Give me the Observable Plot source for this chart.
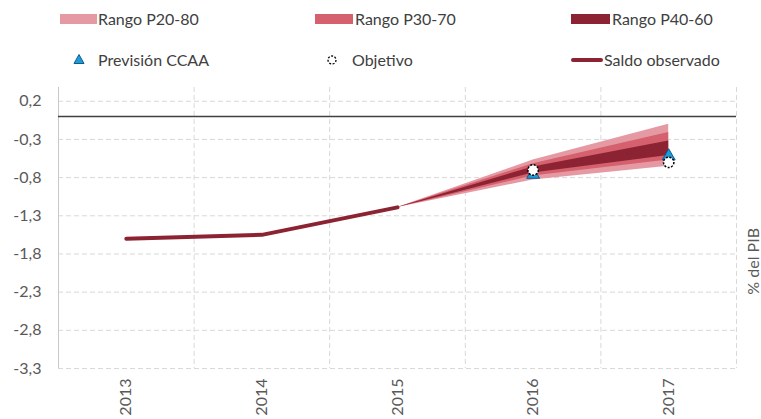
<!DOCTYPE html>
<html>
<head>
<meta charset="utf-8">
<script src="https://cdn.jsdelivr.net/npm/d3@7"></script>
<script src="https://cdn.jsdelivr.net/npm/@observablehq/plot@0.6"></script>
<style>
  html, body { margin: 0; padding: 0; background: #fff; }
  #wrap { position: relative; width: 761px; height: 419px; font-family: Lato, "Open Sans", sans-serif; color: #404040; }
  .leg { position: absolute; font-size: 16px; line-height: 20px; white-space: nowrap; }
  .sw { position: absolute; height: 10px; }
  #chart { position: absolute; left: 0; top: 0; }
</style>
</head>
<body>
<div id="wrap">
  <div id="chart"></div>
</div>
<script>
// ---- data ----
const years = [2013, 2014, 2015, 2016, 2017];
const obsYears = [2013, 2014, 2015];
const saldoObservado = [-1.6, -1.55, -1.19];
const fanYears = [2015, 2016, 2017];
const p20 = [-1.19, -0.83, -0.65];
const p80 = [-1.19, -0.57, -0.10];
const p30 = [-1.19, -0.78, -0.57];
const p70 = [-1.19, -0.62, -0.21];
const p40 = [-1.19, -0.74, -0.51];
const p60 = [-1.19, -0.66, -0.32];
const targetYears = [2016, 2017];
const previsionCCAA = [-0.76, -0.52];
const objetivo = [-0.7, -0.6];
const yTicks = [0.2, -0.3, -0.8, -1.3, -1.8, -2.3, -2.8, -3.3];
const legendLabels = ["Rango P20-80", "Rango P30-70", "Rango P40-60", "Previsión CCAA", "Objetivo", "Saldo observado"];
const colors = { p2080: "#E59AA3", p3070: "#D6616E", p4060: "#8C2333", line: "#8C2333", tri: "#1F9BD7" };

// ---- tables ----
const obs = obsYears.map((y, i) => ({ year: y, v: saldoObservado[i] }));
const fan = fanYears.map((y, i) => ({ year: y, p20: p20[i], p80: p80[i], p30: p30[i], p70: p70[i], p40: p40[i], p60: p60[i] }));
const targets = targetYears.map((y, i) => ({ year: y, prev: previsionCCAA[i], obj: objetivo[i] }));
const bandEdges = [years[0] - 0.5, ...years.map(y => y + 0.5)];
const fmt = d => d.toFixed(1).replace(".", ",");
const gridStyle = { stroke: "#D9D9D9", strokeWidth: 1, strokeDasharray: "5,3" };

const chart = Plot.plot({
  width: 761,
  height: 419,
  marginTop: 87,
  marginBottom: 51,
  marginLeft: 58,
  marginRight: 25,
  style: { fontFamily: "Lato, 'Open Sans', sans-serif", fontSize: "16px", color: "#595959", background: "transparent" },
  x: { type: "linear", domain: [years[0] - 0.5, years[years.length - 1] + 0.5] },
  y: { domain: [-3.3, 0.38] },
  marks: [
    Plot.ruleY(yTicks, { ...gridStyle }),
    Plot.ruleX(bandEdges.slice(1), { ...gridStyle }),
    Plot.ruleX(bandEdges.slice(0, 1), { stroke: "#C8C8C8", strokeWidth: 1 }),
    Plot.areaY(fan, { x: "year", y1: "p20", y2: "p80", fill: colors.p2080 }),
    Plot.areaY(fan, { x: "year", y1: "p30", y2: "p70", fill: colors.p3070 }),
    Plot.areaY(fan, { x: "year", y1: "p40", y2: "p60", fill: colors.p4060 }),
    Plot.ruleY([0], { stroke: "#404040", strokeWidth: 1.5 }),
    Plot.line(obs, { x: "year", y: "v", stroke: colors.line, strokeWidth: 4, strokeLinecap: "round" }),
    Plot.dot(targets, { x: "year", y: "prev", symbol: "triangle", r: 4.8, fill: colors.tri, stroke: "#0D5C8A", strokeWidth: 1 }),
    Plot.dot(targets, { x: "year", y: "obj", symbol: "circle", r: 5.2, fill: "#fff", stroke: "#000", strokeWidth: 1.5, strokeDasharray: "2,1.5" }),
    Plot.axisY(yTicks, { tickSize: 0, tickPadding: 17, tickFormat: fmt, label: null, fill: "#595959", fontSize: 16 }),
    Plot.axisX(years, { tickSize: 0, tickPadding: 10, tickRotate: -90, tickFormat: d => String(d), label: null, fill: "#595959", fontSize: 16 }),
    Plot.text(["% del PIB"], { frameAnchor: "right", dx: 17, rotate: -90, fill: "#595959", fontSize: 16 })
  ]
});
document.getElementById("chart").appendChild(chart);

// ---- legend (HTML) ----
const wrap = document.getElementById("wrap");
function addSwatch(x, y, w, h, color, radius) {
  const s = document.createElement("div");
  s.className = "sw";
  s.style.left = x + "px"; s.style.top = y + "px"; s.style.width = w + "px"; s.style.height = h + "px";
  s.style.background = color;
  if (radius) s.style.borderRadius = radius + "px";
  wrap.appendChild(s);
}
function addText(x, yc, text) {
  const t = document.createElement("div");
  t.className = "leg";
  t.style.left = x + "px"; t.style.top = (yc - 10) + "px";
  t.textContent = text;
  wrap.appendChild(t);
}
addSwatch(60, 14, 37, 10, colors.p2080);
addText(98, 19, legendLabels[0]);
addSwatch(315, 14, 38, 10, colors.p3070);
addText(355, 19, legendLabels[1]);
addSwatch(571, 14, 39, 10, colors.p4060);
addText(612, 19, legendLabels[2]);

// triangle and circle legend symbols
const svgNS = "http://www.w3.org/2000/svg";
const ls = document.createElementNS(svgNS, "svg");
ls.setAttribute("width", 761); ls.setAttribute("height", 80);
ls.style.position = "absolute"; ls.style.left = "0"; ls.style.top = "0";
const tri = document.createElementNS(svgNS, "path");
tri.setAttribute("d", "M79,54.5 L84,63.5 L74,63.5 Z");
tri.setAttribute("fill", colors.tri); tri.setAttribute("stroke", "#0D5C8A"); tri.setAttribute("stroke-width", "1");
ls.appendChild(tri);
const circ = document.createElementNS(svgNS, "circle");
circ.setAttribute("cx", 332); circ.setAttribute("cy", 60); circ.setAttribute("r", 4);
circ.setAttribute("fill", "#fff"); circ.setAttribute("stroke", "#000"); circ.setAttribute("stroke-width", "1.3"); circ.setAttribute("stroke-dasharray", "2,1.5");
ls.appendChild(circ);
wrap.appendChild(ls);
addText(98, 60, legendLabels[3]);
addText(352, 60, legendLabels[4]);
addSwatch(571, 58, 32, 4, colors.line, 2);
addText(604, 60, legendLabels[5]);
</script>
</body>
</html>
